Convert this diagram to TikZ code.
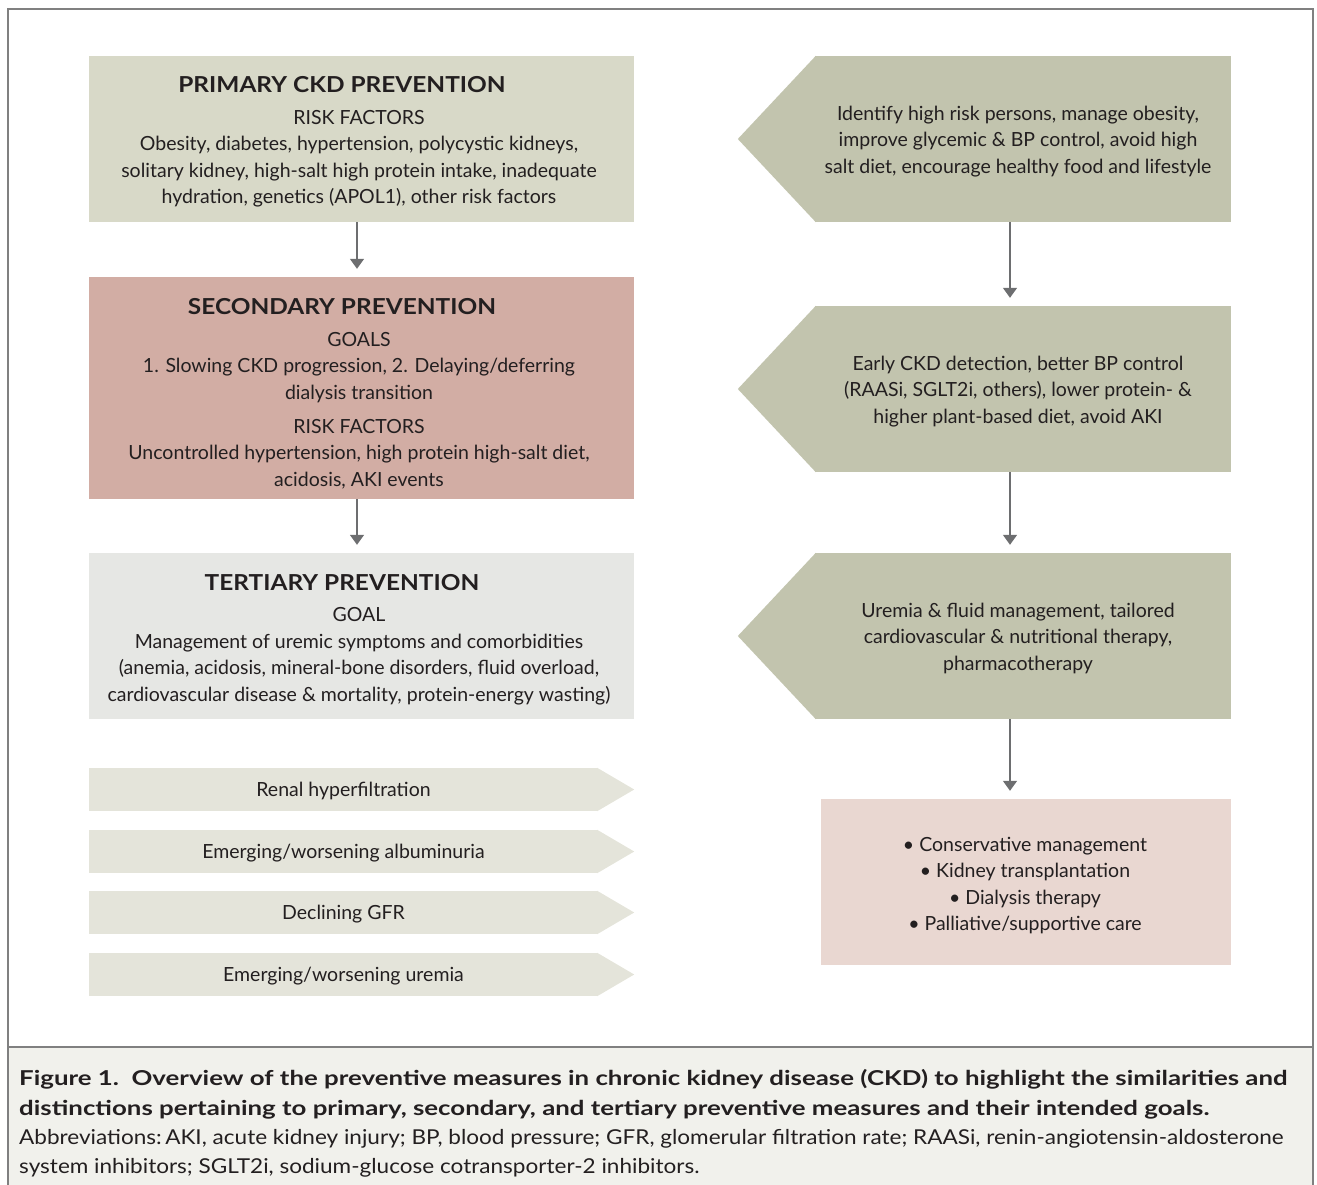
\documentclass[tikz,border=0pt]{standalone}
\usepackage{fontspec}
\setmainfont{Lato}
\newfontfamily\headfont{Lato}[FakeStretch=1.11]
\newfontfamily\capbffont{Lato}[FakeStretch=1.26]
\newfontfamily\capfont{Lato}[FakeStretch=1.10]
\usetikzlibrary{arrows.meta}

\definecolor{inkc}{HTML}{231F20}
\definecolor{framec}{HTML}{808080}
\definecolor{arrowc}{HTML}{6D6E70}
\definecolor{primc}{HTML}{D8D9C8}
\definecolor{secc}{HTML}{D2ADA4}
\definecolor{tertc}{HTML}{E6E7E4}
\definecolor{actc}{HTML}{C2C4AE}
\definecolor{outc}{HTML}{E9D7D1}
\definecolor{barc}{HTML}{E4E4DA}
\definecolor{capc}{HTML}{F1F1EC}

\newcommand{\boxhead}[1]{{\headfont\bfseries\fontsize{22}{26.5}\selectfont #1}\hspace*{34pt}}

\begin{document}
\begin{tikzpicture}[x=1pt,y=-1pt,
  every node/.style={text=inkc,inner sep=0pt,font=\fontsize{19.5}{26.5}\selectfont},
  stage/.style={rectangle,minimum width=545pt},
  action/.style={rectangle,fill=actc,minimum width=416pt,minimum height=166pt},
  sign/.style={rectangle,fill=barc,minimum width=509pt,minimum height=43pt,text height=14pt,text depth=0pt},
  blurb/.style={anchor=north,align=center},
  flow/.style={draw=arrowc,line width=1.5pt,-{Triangle[width=14pt,length=10pt]},shorten >=8pt}]
  \useasboundingbox (0,0) rectangle (1317,1185);
  % frame and caption panel
  \fill[capc] (8,1047) rectangle (1313,1185);
  \draw[framec,line width=1.3pt] (8,1185) -- (8,9) -- (1313,9) -- (1313,1185);
  \draw[framec,line width=1.3pt] (8,1047) -- (1313,1047);

  % left column
  \node[stage,fill=primc,minimum height=166pt] (prim) at (361.5,139) {};
  \node[stage,fill=secc,minimum height=222pt] (sec) at (361.5,388) {};
  \node[stage,fill=tertc,minimum height=166pt] (tert) at (361.5,636) {};
  \node[blurb] (primtxt) at (359,76.5)
    {\boxhead{PRIMARY CKD PREVENTION}\\[5pt]
     RISK FACTORS\\
     Obesity, diabetes, hypertension, polycystic kidneys,\\
     solitary kidney, high-salt high protein intake, inadequate\\
     hydration, genetics (APOL1), other risk factors};
  \node[blurb] (sectxt) at (359,298.5)
    {\boxhead{SECONDARY PREVENTION}\\[5pt]
     GOALS\\
     1. Slowing CKD progression, 2. Delaying/deferring\\
     dialysis transition\\[7.5pt]
     RISK FACTORS\\
     Uncontrolled hypertension, high protein high-salt diet,\\
     acidosis, AKI events};
  \node[blurb] (terttxt) at (359,574.5)
    {\boxhead{TERTIARY PREVENTION}\\[4.5pt]
     GOAL\\
     Management of uremic symptoms and comorbidities\\
     (anemia, acidosis, mineral-bone disorders, fluid overload,\\
     cardiovascular disease \& mortality, protein-energy wasting)};

  % right column
  \node[action] (act1) at (1023,139) {};
  \node[action] (act2) at (1023,389) {};
  \node[action] (act3) at (1023,636) {};
  \foreach \n in {act1,act2,act3}
    \fill[actc] ([xshift=1pt]\n.north west) -- ([xshift=-77pt]\n.west) -- ([xshift=1pt]\n.south west) -- cycle;
  \node[blurb] (act1txt) at (1018,105.5)
    {Identify high risk persons, manage obesity,\\
     improve glycemic \& BP control, avoid high\\
     salt diet, encourage healthy food and lifestyle};
  \node[blurb] (act2txt) at (1018,355.5)
    {Early CKD detection, better BP control\\
     (RAASi, SGLT2i, others), lower protein- \&\\
     higher plant-based diet, avoid AKI};
  \node[blurb] (act3txt) at (1018,602.5)
    {Uremia \& fluid management, tailored\\
     cardiovascular \& nutritional therapy,\\
     pharmacotherapy};
  \node[rectangle,fill=outc,minimum width=410pt,minimum height=166pt] (out) at (1026,882) {};
  \node[blurb] (outtxt) at (1025,836.5)
    {\textbullet\ Conservative management\\
     \textbullet\ Kidney transplantation\\
     \textbullet\ Dialysis therapy\\
     \textbullet\ Palliative/supportive care};

  % progression signs
  \foreach \i/\y/\t in {1/789.5/Renal hyperfiltration, 2/851.5/{Emerging/worsening albuminuria},
                        3/912.5/Declining GFR, 4/974.5/{Emerging/worsening uremia}} {
    \node[sign] (sg\i) at (343.5,\y) {\t};
    \fill[barc] ([xshift=-1pt]sg\i.north east) -- ([xshift=36pt]sg\i.east) -- ([xshift=-1pt]sg\i.south east) -- cycle;
  }

  % arrows
  \coordinate (lx) at (357,0);
  \coordinate (rx) at (1010,0);
  \draw[flow] (prim.south -| lx) -- (sec.north -| lx);
  \draw[flow] (sec.south -| lx) -- (tert.north -| lx);
  \draw[flow] (act1.south -| rx) -- (act2.north -| rx);
  \draw[flow] (act2.south -| rx) -- (act3.north -| rx);
  \draw[flow] (act3.south -| rx) -- (out.north -| rx);

  \node[anchor=north west,align=left,font=\fontsize{20.5}{29.3}\selectfont] (cap) at (19,1069.5)
    {{\capbffont\bfseries Figure 1.\ \ Overview of the preventive measures in chronic kidney disease (CKD) to highlight the similarities and}\\
     {\capbffont\bfseries distinctions pertaining to primary, secondary, and tertiary preventive measures and their intended goals.}\\
     {\capfont Abbreviations:\,AKI, acute kidney injury; BP, blood pressure; GFR, glomerular filtration rate; RAASi, renin-angiotensin-aldosterone}\\
     {\capfont system inhibitors; SGLT2i, sodium-glucose cotransporter-2 inhibitors.}};
\end{tikzpicture}
\end{document}
